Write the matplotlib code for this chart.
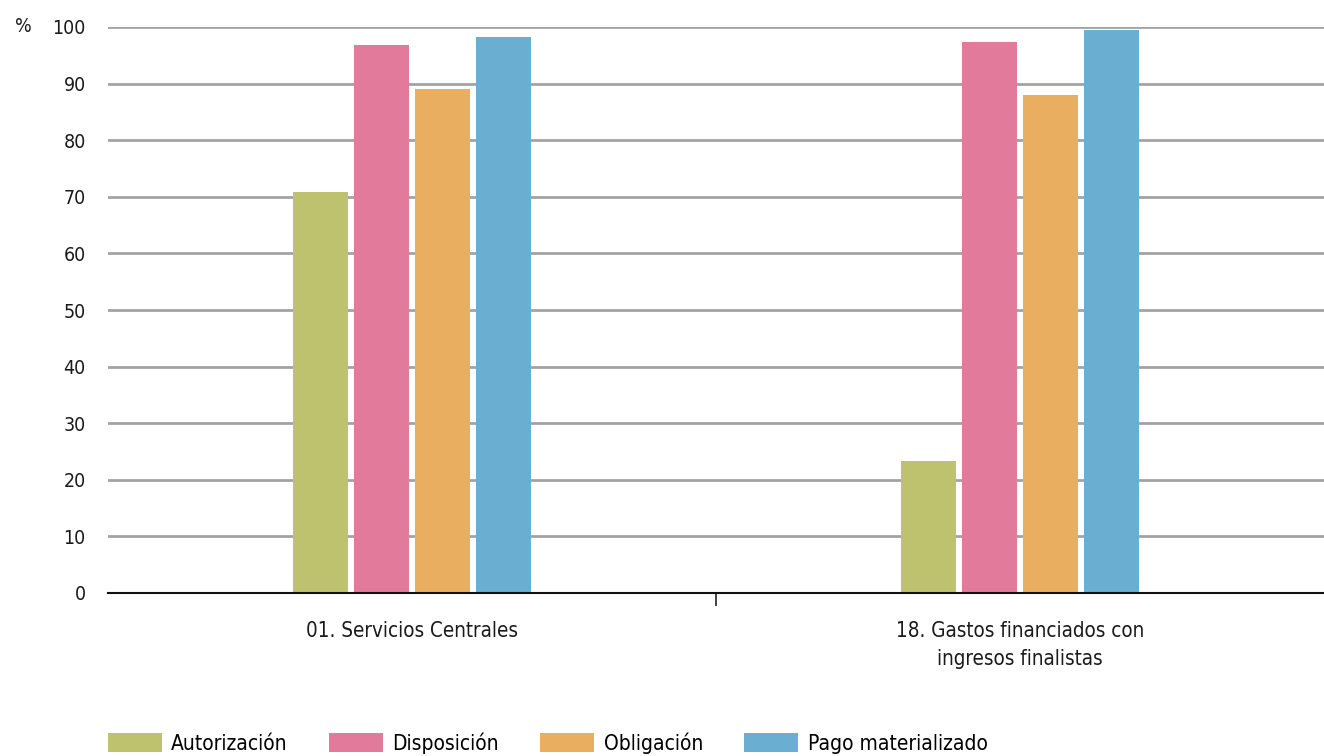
import numpy as np
import matplotlib
matplotlib.use("Agg")
from matplotlib import pyplot as plt

# data
categories = ["01. Servicios Centrales", "18. Gastos financiados con\ningresos finalistas"]
series_names = ["Autorización", "Disposición", "Obligación", "Pago materializado"]
autorizacion = [70.8, 23.3]
disposicion = [96.8, 97.3]
obligacion = [89.0, 88.0]
pago = [98.2, 99.5]
yticks = [0, 10, 20, 30, 40, 50, 60, 70, 80, 90, 100]

colors = ["#bec16d", "#e27b9b", "#e9ae60", "#6aaed1"]

plt.rcParams['font.family'] = ['DejaVu Sans']
plt.rcParams['font.stretch'] = 'condensed'

fig = plt.figure(figsize=(13.24, 7.56), dpi=100)
ax = fig.add_axes([108 / 1324, 1 - 593 / 756, 1 - 108 / 1324, (593 - 27) / 756])

x = np.arange(len(categories))
width = 0.0905
step = 0.1003
values = [autorizacion, disposicion, obligacion, pago]
for i, (vals, name, c) in enumerate(zip(values, series_names, colors)):
    ax.bar(x + (i - 1.5) * step, vals, width, color=c, label=name, zorder=3)

ax.set_xlim(-0.5, 1.5)
ax.set_ylim(0, 100)
ax.set_yticks(yticks)
ax.yaxis.grid(True, color="#a3a3a3", linewidth=2, zorder=0)
ax.tick_params(axis="y", length=0, pad=16, labelsize=14, labelcolor="#1a1a1a")

# category labels and the single divider tick
ax.set_xticks([0.5])
ax.set_xticklabels([""])
ax.tick_params(axis="x", length=9, width=1.2, color="#222222")
for xi, lab in zip(x, categories):
    ax.text(xi, -5.0, lab, ha="center", va="top", fontsize=14.8,
            color="#1a1a1a", linespacing=1.5)

for s in ["top", "right", "left"]:
    ax.spines[s].set_visible(False)
ax.spines["bottom"].set_color("#111111")
ax.spines["bottom"].set_linewidth(1.5)
ax.spines["bottom"].set_zorder(4)

fig.text(15 / 1324, 1 - 27 / 756, "%", ha="left", va="center", fontsize=14, color="#1a1a1a")

fig.legend(loc="lower left", bbox_to_anchor=(89 / 1324, -0.022), ncol=4, frameon=False,
           fontsize=15, handlelength=2.6, handleheight=1.0, columnspacing=1.97,
           handletextpad=0.45)

fig.savefig("out.png", dpi=100)
